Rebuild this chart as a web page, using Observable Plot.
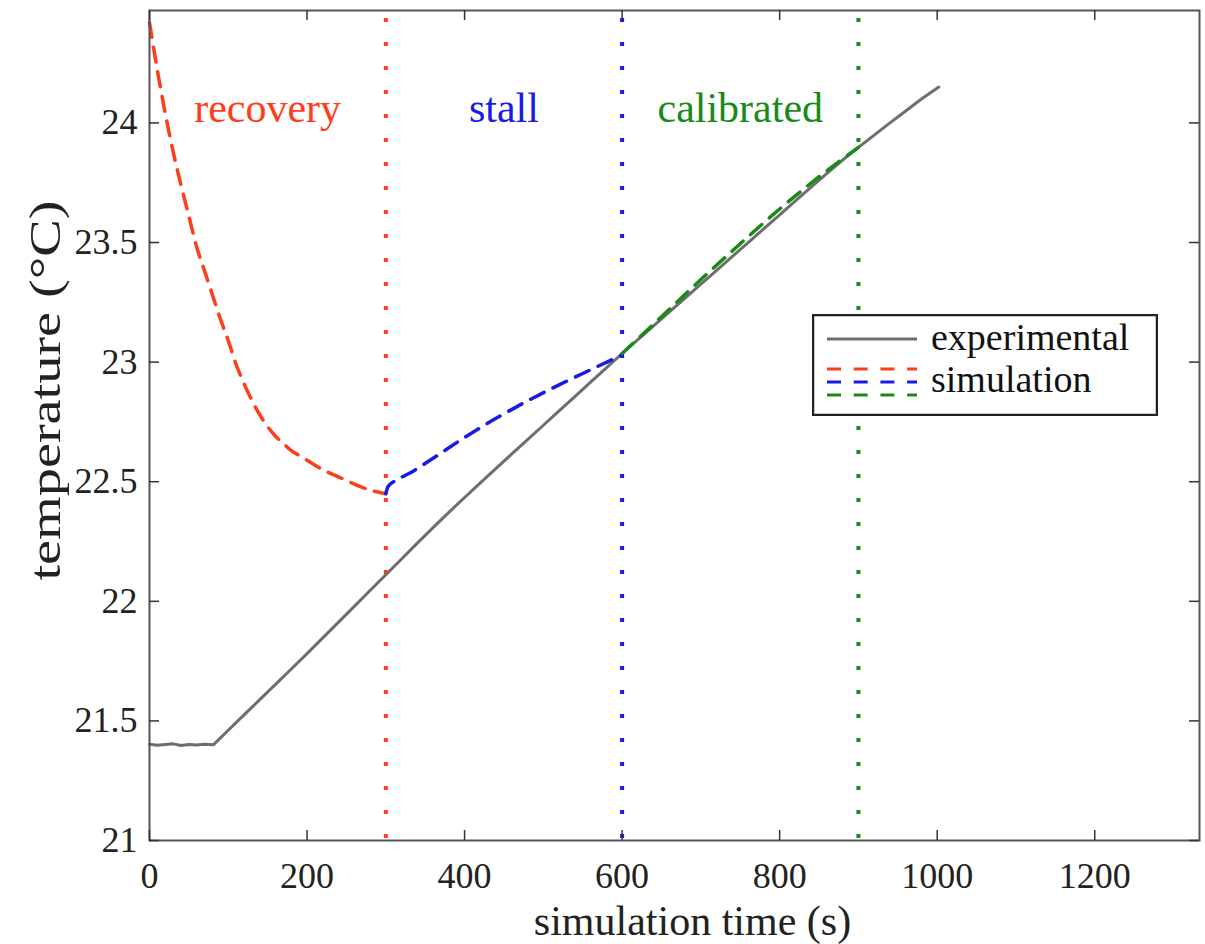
<!DOCTYPE html>
<html>
<head>
<meta charset="utf-8">
<script src="https://cdn.jsdelivr.net/npm/d3@7"></script>
<script src="https://cdn.jsdelivr.net/npm/@observablehq/plot@0.6"></script>
<style>
  html, body { margin: 0; padding: 0; background: #fff; }
  #wrap { position: relative; width: 1205px; height: 944px; }
  #legend { position: absolute; left: 812px; top: 314px; }
</style>
</head>
<body>
<div id="wrap"></div>
<script>
// ---- data ----
const expTime = [0, 10, 20, 30, 40, 50, 60, 70, 81, 100, 120, 140, 160, 180, 200, 220, 240, 260, 280, 300,
  320, 340, 360, 380, 400, 420, 440, 460, 480, 500, 520, 540, 560, 580, 600, 620, 640, 660, 680, 700,
  720, 740, 760, 780, 800, 820, 840, 860, 880, 900, 920, 940, 960, 980, 1002];
const expTemp = [21.402, 21.398, 21.401, 21.404, 21.397, 21.401, 21.399, 21.402, 21.400, 21.461, 21.525, 21.589, 21.653, 21.717, 21.781, 21.847, 21.913, 21.979, 22.045, 22.111,
  22.177, 22.243, 22.308, 22.372, 22.434, 22.495, 22.556, 22.616, 22.676, 22.736, 22.796, 22.856, 22.916, 22.976, 23.036, 23.094, 23.152, 23.210, 23.268, 23.326,
  23.384, 23.442, 23.500, 23.558, 23.616, 23.674, 23.732, 23.789, 23.845, 23.898, 23.949, 24.000, 24.050, 24.100, 24.150];

const recTime = [0, 10, 20, 30, 40, 50, 60, 70, 80, 90, 100, 110, 120, 130, 140, 150, 160, 170, 180, 190, 200, 220, 240, 260, 280, 300];
const recTemp = [24.42, 24.22, 24.04, 23.88, 23.74, 23.61, 23.48, 23.38, 23.28, 23.18, 23.09, 22.99, 22.91, 22.84, 22.78, 22.73, 22.69, 22.66, 22.63, 22.61, 22.59, 22.55, 22.52, 22.49, 22.465, 22.45];

const stallTime = [300, 303, 310, 330, 360, 400, 440, 480, 520, 560, 600];
const stallTemp = [22.450, 22.480, 22.500, 22.535, 22.598, 22.685, 22.765, 22.838, 22.905, 22.968, 23.030];

const calTime = [600, 650, 700, 750, 800, 850, 900];
const calTemp = [23.036, 23.190, 23.345, 23.495, 23.640, 23.775, 23.898];

const phaseNames = ["recovery", "stall", "calibrated"];
const phaseStart = [0, 300, 600];
const phaseEnd = [300, 600, 900];
const phaseColors = ["#ff3d1a", "#1a1ae6", "#178a17"];
const expColor = "#6e6e6e";

const xTicks = [0, 200, 400, 600, 800, 1000, 1200];
const yTicks = [21, 21.5, 22, 22.5, 23, 23.5, 24];
const xDomain = [0, 1333];
const yDomain = [21, 24.47];

const xTitle = "simulation time (s)";
const yTitle = "temperature (°C)";
const legendLabels = ["experimental", "simulation"];

// ---- layout ----
const W = 1205, H = 944;
const mL = 149, mR = 6, mT = 10, mB = 104;
const plotW = W - mL - mR, plotH = H - mT - mB;
const font = "'Liberation Serif', 'Times New Roman', serif";
const tickLen = 10;

const phases = phaseNames.map((n, i) => ({name: n, start: phaseStart[i], end: phaseEnd[i], color: phaseColors[i]}));
const simSeries = [[recTime, recTemp], [stallTime, stallTemp], [calTime, calTemp]];

const marks = [
  Plot.ruleX(phases, {x: "end", stroke: "color", strokeWidth: 4, strokeDasharray: "4,20", strokeDashoffset: -8}),
  Plot.line(expTemp, {x: expTime, y: expTemp, stroke: expColor, strokeWidth: 3}),
  ...simSeries.map(([t, v], i) => Plot.line(v, {x: t, y: v, stroke: phaseColors[i], strokeWidth: 3.5, strokeDasharray: "15,10", curve: "monotone-x"})),
  Plot.text(phases, {x: d => (d.start + d.end) / 2, frameAnchor: "top", dy: 98, text: "name", fill: "color",
    fontSize: 42, lineAnchor: "middle", textAnchor: "middle"}),
  Plot.frame({stroke: "#555", strokeWidth: 2}),
  Plot.ruleX(xTicks, {x: d => d, insetTop: plotH - tickLen, stroke: "#333", strokeWidth: 1.5}),
  Plot.ruleX(xTicks, {x: d => d, insetBottom: plotH - tickLen, stroke: "#333", strokeWidth: 1.5}),
  Plot.ruleY(yTicks, {y: d => d, insetRight: plotW - tickLen, stroke: "#333", strokeWidth: 1.5}),
  Plot.ruleY(yTicks, {y: d => d, insetLeft: plotW - tickLen, stroke: "#333", strokeWidth: 1.5}),
  Plot.axisX(xTicks, {tickSize: 0, tickPadding: 22, fontSize: 36, tickFormat: d => String(d), label: null, fill: "#222"}),
  Plot.axisY(yTicks, {tickSize: 0, tickPadding: 12, fontSize: 36, tickFormat: d => String(d), label: null, fill: "#222"}),
  Plot.text([xTitle], {frameAnchor: "bottom", dx: 18, dy: 81, fontSize: 42, fill: "#222",
    textAnchor: "middle", lineAnchor: "middle"}),
  Plot.text([yTitle], {frameAnchor: "left", dx: -104, dy: -35, rotate: -90, fontSize: 44, fill: "#222",
    textAnchor: "middle", lineAnchor: "middle", className: "ytitle"})
];

const chart = Plot.plot({
  width: W, height: H,
  marginLeft: mL, marginRight: mR, marginTop: mT, marginBottom: mB,
  x: {domain: xDomain},
  y: {domain: yDomain},
  style: {fontFamily: font, background: "#fff", overflow: "visible"},
  marks
});
// stretch the rotated y title along its baseline to match the reference span
d3.select(chart).selectAll(".ytitle text").attr("textLength", 380).attr("lengthAdjust", "spacingAndGlyphs");
const wrap = document.getElementById("wrap");
wrap.appendChild(chart);

// ---- legend (overlay) ----
const lw = 346, lh = 102;
const ns = "http://www.w3.org/2000/svg";
const leg = document.createElementNS(ns, "svg");
leg.setAttribute("id", "legend");
leg.setAttribute("width", lw);
leg.setAttribute("height", lh);
const s = d3.select(leg);
s.append("rect").attr("x", 1).attr("y", 1).attr("width", lw - 2).attr("height", lh - 2)
  .attr("fill", "#fff").attr("stroke", "#222").attr("stroke-width", 2.5);
s.append("line").attr("x1", 15).attr("x2", 105).attr("y1", 25).attr("y2", 25)
  .attr("stroke", expColor).attr("stroke-width", 3);
phaseColors.forEach((c, i) => {
  s.append("line").attr("x1", 15).attr("x2", 105).attr("y1", 55 + i * 13).attr("y2", 55 + i * 13)
    .attr("stroke", c).attr("stroke-width", 3).attr("stroke-dasharray", "14,12.7");
});
s.append("text").attr("x", 119).attr("y", 36).text(legendLabels[0])
  .attr("font-family", font).attr("font-size", 38).attr("fill", "#111");
s.append("text").attr("x", 119).attr("y", 78).text(legendLabels[1])
  .attr("font-family", font).attr("font-size", 38).attr("fill", "#111");
wrap.appendChild(leg);
</script>
</body>
</html>
